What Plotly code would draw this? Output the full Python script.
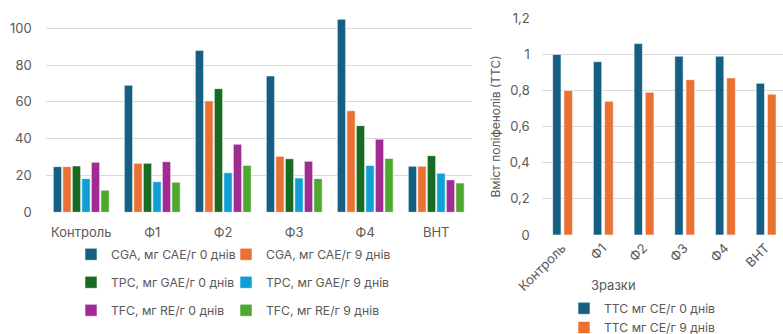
import plotly.graph_objects as go

categories = ["Контроль", "Ф1", "Ф2", "Ф3", "Ф4", "ВНТ"]
cga0 = [24.8, 69.0, 88.0, 74.1, 104.9, 25.0]
cga9 = [24.8, 26.6, 60.5, 30.4, 55.2, 25.0]
tpc0 = [25.2, 26.6, 67.2, 29.1, 47.1, 30.8]
tpc9 = [18.3, 16.6, 21.5, 18.6, 25.5, 21.2]
tfc0 = [27.2, 27.5, 37.0, 27.7, 39.7, 17.6]
tfc9 = [12.0, 16.3, 25.5, 18.3, 29.3, 15.9]
ttc0 = [1.00, 0.96, 1.06, 0.99, 0.99, 0.84]
ttc9 = [0.80, 0.74, 0.79, 0.86, 0.87, 0.78]

left_names = ["CGA, мг CAE/г 0 днів", "CGA, мг CAE/г 9 днів",
              "TPC, мг GAE/г 0 днів", "TPC, мг GAE/г 9 днів",
              "TFC, мг RE/г 0 днів", "TFC, мг RE/г 9 днів"]
right_names = ["ТТС мг CE/г 0 днів", "ТТС мг CE/г 9 днів"]
left_ticks = [0, 20, 40, 60, 80, 100]
right_ticks = [0, 0.2, 0.4, 0.6, 0.8, 1.0, 1.2]
right_ticktext = ["0", "0,2", "0,4", "0,6", "0,8", "1", "1,2"]

colors = ["#156082", "#E97132", "#196B24", "#0F9ED5", "#A02B93", "#4EA72E"]
FONT = "Inter"
GRAY = "#595959"
W, H = 783, 334

def px_x(v):
    return v / W

def px_y(v):
    return 1 - v / H

fig = go.Figure()

left_series = [cga0, cga9, tpc0, tpc9, tfc0, tfc9]
# legend placement (pixels): two columns, three rows
left_leg_pos = [(71, 254.3), (226, 254.3), (71, 282.3), (226, 282.3), (71, 310.3), (226, 310.3)]
right_leg_pos = [(564, 308.3), (564, 327.5)]
slot = 0.134
bw = 0.117
start = -0.393
legend_layouts = {}
k = 0
for i, (vals, name) in enumerate(zip(left_series, left_names)):
    k += 1
    lname = "legend" if k == 1 else f"legend{k}"
    fig.add_trace(go.Bar(
        x=categories, y=vals, name=name, xaxis="x", yaxis="y",
        marker=dict(color=colors[i], line=dict(color="rgba(255,255,255,0.7)", width=0.8)),
        width=bw, offset=start + i * slot, legend=lname))
    legend_layouts[lname] = left_leg_pos[i]

right_series = [ttc0, ttc9]
r_offsets = [-0.23, 0.045]
r_widths = [0.205, 0.213]
for i, (vals, name) in enumerate(zip(right_series, right_names)):
    k += 1
    lname = f"legend{k}"
    fig.add_trace(go.Bar(
        x=categories, y=vals, name=name, xaxis="x2", yaxis="y2",
        marker=dict(color=colors[i], line=dict(color="rgba(255,255,255,0.7)", width=0.8)),
        width=r_widths[i], offset=r_offsets[i], legend=lname))
    legend_layouts[lname] = right_leg_pos[i]

tickfont = dict(family=FONT, size=13, color=GRAY)
legfont = dict(family=FONT, size=12.2, color=GRAY)

fig.update_layout(
    width=W, height=H, margin=dict(l=0, r=0, t=0, b=0, autoexpand=False),
    paper_bgcolor="white", plot_bgcolor="white",
    barmode="overlay", showlegend=True,
    font=dict(family=FONT, color=GRAY),
    xaxis=dict(domain=[px_x(45.7), px_x(471.7)], type="category",
               categoryorder="array", categoryarray=categories,
               range=[-0.5, 5.5], showgrid=False, showline=False, ticks="",
               tickfont=tickfont, ticklabelstandoff=11, anchor="y"),
    yaxis=dict(domain=[px_y(212.3), px_y(9.9)], range=[0, 110],
               tickvals=left_ticks, showgrid=True, gridcolor="#D9D9D9", gridwidth=1,
               zeroline=False, showline=False, tickfont=tickfont,
               ticklabelstandoff=13, anchor="x"),
    xaxis2=dict(domain=[px_x(541.7), 1.0], type="category",
                categoryorder="array", categoryarray=categories,
                range=[-0.5, -0.5 + (783 - 541.7) / 40.7], showgrid=False,
                showline=False, ticks="", tickangle=-45, tickfont=tickfont,
                ticklabelstandoff=2, anchor="y2"),
    yaxis2=dict(domain=[px_y(235), px_y(18.3)], range=[0, 1.2],
                tickvals=right_ticks, ticktext=right_ticktext,
                showgrid=True, gridcolor="#D9D9D9", gridwidth=1,
                zeroline=False, showline=False, tickfont=tickfont,
                ticklabelstandoff=11, anchor="x2"),
)

for lname, (lx, ly) in legend_layouts.items():
    fig.update_layout({lname: dict(orientation="h", font=legfont, bgcolor="rgba(0,0,0,0)",
                                   xanchor="left", yanchor="middle", itemwidth=30,
                                   x=px_x(lx), y=px_y(ly),
                                   itemclick=False, itemdoubleclick=False)})

fig.add_annotation(text="Зразки", x=px_x(613), y=px_y(285), xref="paper", yref="paper",
                   showarrow=False, font=dict(family=FONT, size=13, color=GRAY),
                   xanchor="center", yanchor="middle")
fig.add_annotation(text="Вміст поліфенолів (ТТС)", x=px_x(495), y=px_y(126.5),
                   xref="paper", yref="paper", textangle=-90, showarrow=False,
                   font=dict(family=FONT, size=12, color=GRAY),
                   xanchor="center", yanchor="middle")

fig.write_html("out.html", config={"displayModeBar": False},
               post_script="document.body.style.margin='0';")
